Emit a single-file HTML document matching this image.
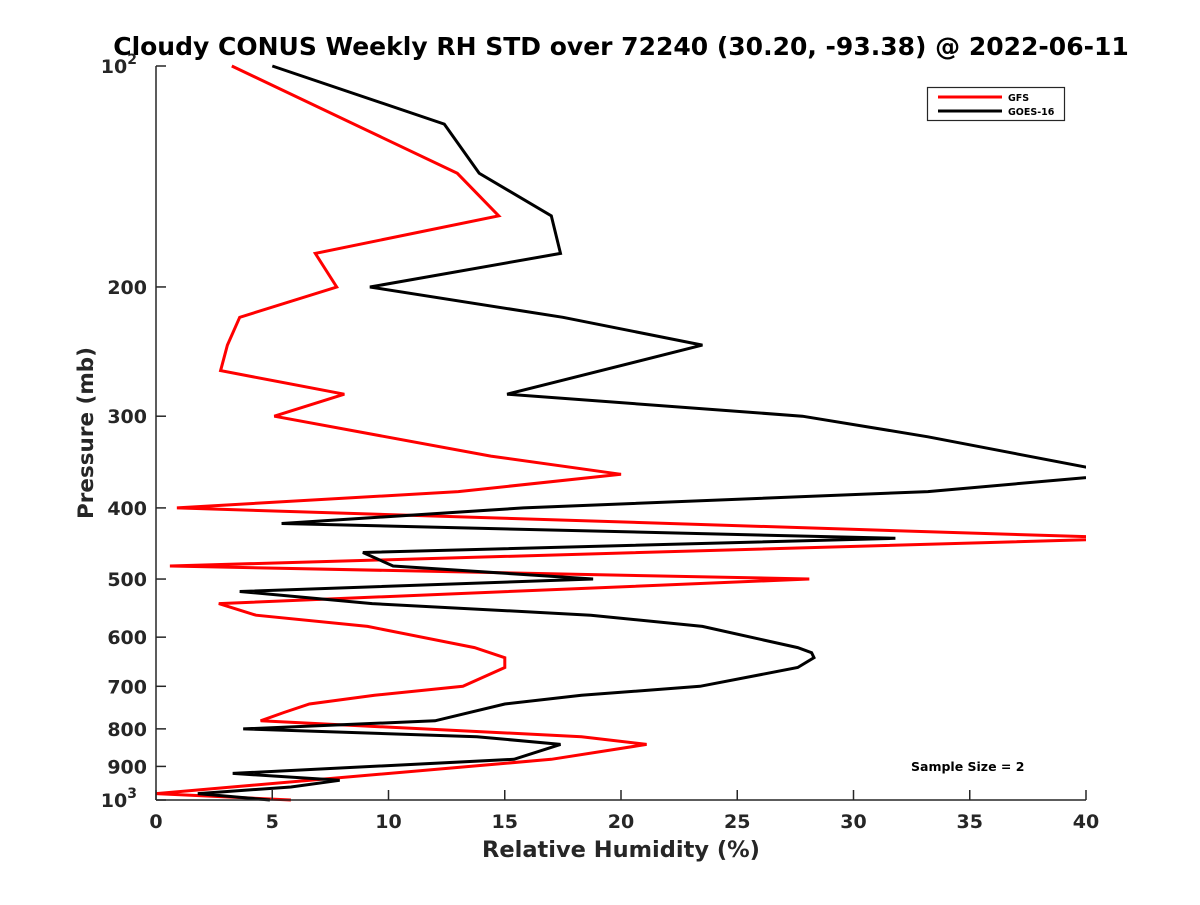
<!DOCTYPE html>
<html><head><meta charset="utf-8"><style>
html,body{margin:0;padding:0;background:#fff;}
svg text{font-family:"DejaVu Sans","Liberation Sans",sans-serif;font-weight:bold;}
</style></head><body>
<svg id="chart" width="1200" height="900" viewBox="0 0 1200 900" xmlns="http://www.w3.org/2000/svg">
<rect width="1200" height="900" fill="#fff"/>
<text x="621" y="55" text-anchor="middle" font-size="25" fill="#000">Cloudy CONUS Weekly RH STD over 72240 (30.20, -93.38) @ 2022-06-11</text>
<defs><clipPath id="plotclip"><rect x="156" y="60" width="930" height="745"/></clipPath></defs>
<g id="series" clip-path="url(#plotclip)"></g>
<g id="axes"></g>
<text x="621" y="857" text-anchor="middle" font-size="22.5" fill="#262626">Relative Humidity (%)</text>
<text transform="translate(93,433) rotate(-90)" text-anchor="middle" font-size="21.5" fill="#262626">Pressure (mb)</text>
<g>
<rect x="927.5" y="87.5" width="137" height="33" fill="#fff" stroke="#262626" stroke-width="1.2"/>
<line x1="938" y1="97" x2="1002" y2="97" stroke="#ff0000" stroke-width="3"/>
<text x="1008" y="101" font-size="9.5" fill="#000">GFS</text>
<line x1="938" y1="111" x2="1002" y2="111" stroke="#000" stroke-width="3"/>
<text x="1008" y="115" font-size="9.5" fill="#000">GOES-16</text>
</g>
<text x="911" y="771" font-size="12.5" fill="#000">Sample Size = 2</text>
</svg>
<script>
const xTicks = [0, 5, 10, 15, 20, 25, 30, 35, 40];
const yTicks = [100, 200, 300, 400, 500, 600, 700, 800, 900, 1000];
const gfsPressure = [100,140,160,180,200,220,240,260,280,300,340,360,380,400,440,480,500,540,560,580,620,640,660,700,720,740,760,780,820,840,880,980,1000];
const gfsValues   = [3.26,12.96,14.74,6.85,7.77,3.6,3.07,2.78,8.1,5.09,14.4,20.0,13.0,0.9,42.2,0.6,28.1,2.7,4.3,9.1,13.7,15.0,15.0,13.2,9.4,6.6,5.5,4.5,18.3,21.1,17.0,0.0,5.8];
const goesPressure = [100,120,140,160,180,200,220,240,280,300,320,360,380,400,420,440,460,480,500,520,540,560,580,620,630,640,660,700,720,740,780,800,820,840,880,920,940,960,980,1000];
const goesValues   = [5.0,12.4,13.9,17.0,17.4,9.2,17.5,23.5,15.1,27.8,33.2,41.6,33.2,15.8,5.4,31.8,8.9,10.2,18.8,3.6,9.3,18.7,23.5,27.6,28.2,28.3,27.6,23.4,18.3,15.0,12.0,3.75,13.8,17.4,15.4,3.3,7.9,5.8,1.8,4.9];

const X0 = 156, X1 = 1086, Y0 = 800, Y1 = 66;
function xs(v){ return X0 + (v - 0) / 40 * (X1 - X0); }
function ys(p){ return Y1 + (Math.log10(p) - 2) * (Y0 - Y1); }
const NS = "http://www.w3.org/2000/svg";
function mk(tag, attrs, parent){ const e = document.createElementNS(NS, tag); for (const k in attrs) e.setAttribute(k, attrs[k]); parent.appendChild(e); return e; }

const axes = document.getElementById('axes');
const yAxis = mk('line', {x1:X0, y1:Y1, x2:X0, y2:Y0, stroke:'#262626', 'stroke-width':1.5}, axes);


const xAxis = mk('line', {x1:X0, y1:Y0, x2:X1, y2:Y0, stroke:'#262626', 'stroke-width':1.5}, axes);



xTicks.forEach(t => {
  const x = xs(t);
  const tk = mk('line', {x1:x, y1:Y0, x2:x, y2:Y0-10, stroke:'#262626', 'stroke-width':1.5}, axes);
  
  
  const lb = mk('text', {x:x, y:Y0+28, 'text-anchor':'middle', 'font-size':19, fill:'#262626'}, axes);
  lb.textContent = String(t);
  
  
});
yTicks.forEach(t => {
  const y = ys(t);
  const tk = mk('line', {x1:X0, y1:y, x2:X0+10, y2:y, stroke:'#262626', 'stroke-width':1.5}, axes);
  
  
  const lb = mk('text', {x:X0-9, y:y+7, 'text-anchor':'end', 'font-size':19, fill:'#262626'}, axes);
  if (t === 100 || t === 1000) {
    lb.setAttribute('x', X0-19);
    lb.textContent = '10';
    const sup = mk('tspan', {dy:-9, 'font-size':14}, lb);
    sup.textContent = t === 100 ? '2' : '3';
  } else {
    lb.textContent = String(t);
  }
  
  
});

const series = document.getElementById('series');
function drawLine(vals, pres, color, name){
  const pts = vals.map((v, i) => xs(v).toFixed(1) + ',' + ys(pres[i]).toFixed(1)).join(' ');
  const pl = mk('polyline', {points:pts, fill:'none', stroke:color, 'stroke-width':3, 'stroke-linejoin':'miter', 'stroke-miterlimit':4}, series);
  
  
}
drawLine(gfsValues, gfsPressure, '#ff0000', 'gfs-line');
drawLine(goesValues, goesPressure, '#000000', 'goes16-line');
</script>
</body></html>
